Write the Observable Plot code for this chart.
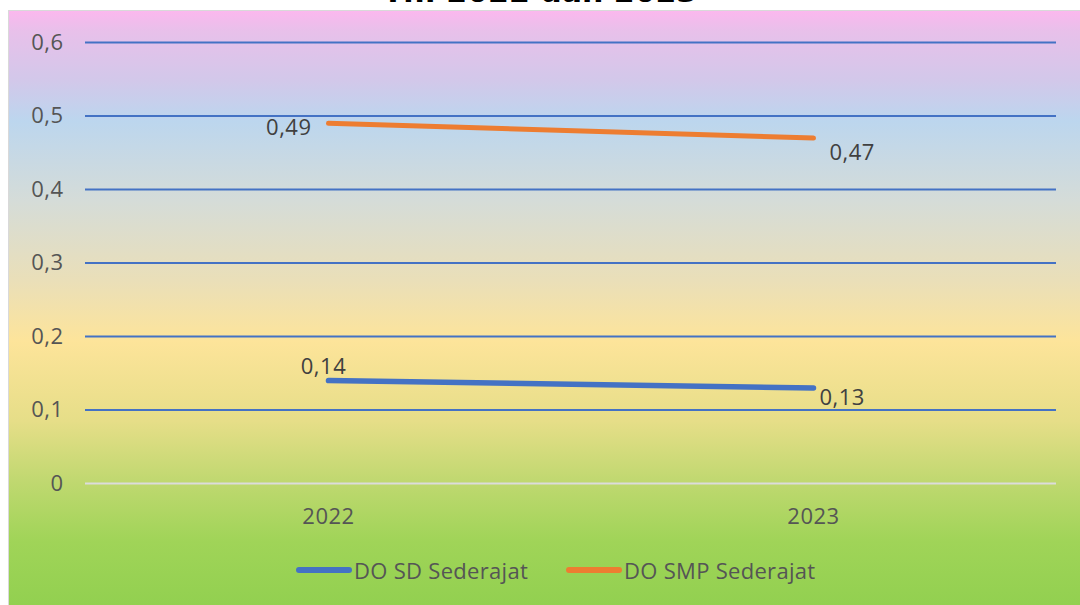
<!DOCTYPE html>
<html>
<head>
<meta charset="utf-8">
<script src="https://cdn.jsdelivr.net/npm/d3@7"></script>
<script src="https://cdn.jsdelivr.net/npm/@observablehq/plot@0.6"></script>
<style>
  html, body { margin: 0; padding: 0; background: #ffffff; }
  #page { position: relative; width: 1080px; height: 605px; overflow: hidden; background: #ffffff; }
  #title { position: absolute; left: 0; width: 1080px; top: -23px; text-align: center;
           font-family: "DejaVu Sans", sans-serif; font-weight: bold; font-size: 30px; line-height: 30px; color: #000; }
  #chart { position: absolute; left: 8px; top: 10px; width: 1072px; height: 595px;
           border-top: 1px solid #d9d9d9; border-left: 1px solid #d9d9d9; box-sizing: border-box;
           background: linear-gradient(to bottom,
             #fbb8ee 0px, #e8c0ea 20px, #d2c8ea 70px, #bcd6ee 110px, #d5dcd8 190px,
             #eadfb8 270px, #fde49a 330px, #e6de88 410px, #c0d870 470px, #a0d458 530px, #92d050 595px); }
  #chart svg { position: absolute; left: 0; top: 0; background: transparent; }
  #legend { position: absolute; top: 546px; left: 0; width: 1072px; height: 26px;
            font-family: "Open Sans", sans-serif; font-size: 22px; letter-spacing: 0.3px; color: #555555; }
  .item { position: absolute; top: 0; display: flex; align-items: center; height: 26px; }
  .sw { display: inline-block; width: 56px; height: 6px; border-radius: 3px; margin-right: 2px; }
</style>
</head>
<body>
<div id="page">
  <div id="title">Th. 2022 dan 2023</div>
  <div id="chart">
    <div id="legend"></div>
  </div>
</div>
<script>
const years = ["2022", "2023"];
const sdValues = [0.14, 0.13];
const smpValues = [0.49, 0.47];
const seriesNames = ["DO SD Sederajat", "DO SMP Sederajat"];
const seriesColors = ["#4472c4", "#ed7d31"];
const yTicks = [0, 0.1, 0.2, 0.3, 0.4, 0.5, 0.6];

const fmt = v => String(v).replace(".", ",");

const sd = years.map((y, i) => ({year: y, value: sdValues[i], series: seriesNames[0]}));
const smp = years.map((y, i) => ({year: y, value: smpValues[i], series: seriesNames[1]}));

const font = '"Open Sans", sans-serif';

const plot = Plot.plot({
  width: 1071,
  height: 594,
  marginLeft: 76,
  marginRight: 24,
  marginTop: 31,
  marginBottom: 122,
  style: {background: "transparent", fontFamily: font, fontSize: "22px", color: "#555555", overflow: "visible", letterSpacing: "0.5px"},
  x: {type: "point", domain: years, padding: 0.5, label: null},
  y: {domain: [0, 0.6], label: null},
  marks: [
    Plot.ruleY(yTicks, {stroke: d => d === 0 ? "#dcdcdc" : "#4472c4", strokeWidth: 2}),
    Plot.axisY({ticks: yTicks, tickFormat: fmt, tickSize: 0, tickPadding: 22, fill: "#555555", fontSize: 22, label: null}),
    Plot.axisX({tickSize: 0, tickPadding: 25, fill: "#555555", fontSize: 22, label: null}),
    Plot.line(smp, {x: "year", y: "value", stroke: seriesColors[1], strokeWidth: 5, strokeLinecap: "round"}),
    Plot.line(sd, {x: "year", y: "value", stroke: seriesColors[0], strokeWidth: 5.5, strokeLinecap: "round"}),
    Plot.text([smp[0]], {x: "year", y: "value", text: d => fmt(d.value), textAnchor: "end", dx: -17, dy: 5, fill: "#404040", fontSize: 22}),
    Plot.text([smp[1]], {x: "year", y: "value", text: d => fmt(d.value), textAnchor: "start", dx: 16, dy: 15, fill: "#404040", fontSize: 22}),
    Plot.text([sd[0]], {x: "year", y: "value", text: d => fmt(d.value), textAnchor: "middle", dx: -5, dy: -14, fill: "#404040", fontSize: 22}),
    Plot.text([sd[1]], {x: "year", y: "value", text: d => fmt(d.value), textAnchor: "start", dx: 6, dy: 10, fill: "#404040", fontSize: 22})
  ]
});
document.getElementById("chart").appendChild(plot);

const legend = document.getElementById("legend");
const lefts = [287, 557];
seriesNames.forEach((name, i) => {
  const it = document.createElement("div");
  it.className = "item";
  it.style.left = lefts[i] + "px";
  const sw = document.createElement("span");
  sw.className = "sw";
  sw.style.background = seriesColors[i];
  it.appendChild(sw);
  const t = document.createElement("span");
  t.textContent = name;
  it.appendChild(t);
  legend.appendChild(it);
});
</script>
</body>
</html>
